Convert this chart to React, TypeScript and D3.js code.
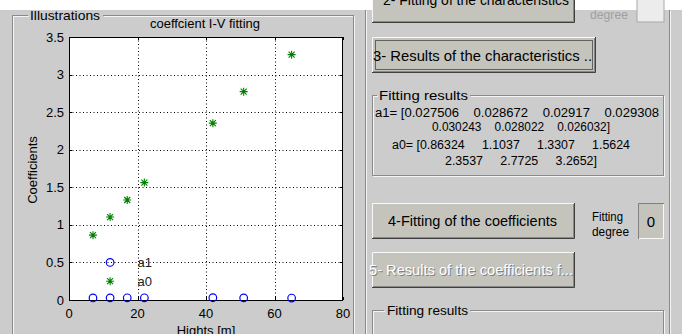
import React, { useEffect, useRef } from "react";
import * as d3 from "d3";

const heights = [7, 12, 17, 22, 42, 51, 65];
const a1Values = [0.027506, 0.028672, 0.02917, 0.029308, 0.030243, 0.028022, 0.026032];
const a0Values = [0.86324, 1.1037, 1.3307, 1.5624, 2.3537, 2.7725, 3.2652];
const xTicks = [0, 20, 40, 60, 80];
const yTicks = [0, 0.5, 1, 1.5, 2, 2.5, 3, 3.5];
const legendItems = [
  { name: "a1", y: 0.5, marker: "circle" },
  { name: "a0", y: 0.25, marker: "star" },
];
const legendMarkerX = 12;
const legendTextX = 20;
const title = "coeffcient I-V fitting";
const xLabel = "Hights [m]";
const yLabel = "Coefficients";

const FONT = "'Liberation Sans', Arial, sans-serif";
const BG = "#cccccc";
const BTN = "#c4c4bc";

function App() {
  const ref = useRef<SVGSVGElement>(null);

  useEffect(() => {
    const svg = d3.select(ref.current);
    svg.selectAll("*").remove();
    const W = 682, H = 334;

    svg.append("rect").attr("width", W).attr("height", H).attr("fill", BG);
    svg.append("rect").attr("width", W).attr("height", 10).attr("fill", "#ffffff");

    // etched line helper
    const etchH = (x1: number, x2: number, y: number) => {
      svg.append("line").attr("x1", x1).attr("x2", x2).attr("y1", y + 0.5).attr("y2", y + 0.5).attr("stroke", "#8a8a8a");
      svg.append("line").attr("x1", x1 + 1).attr("x2", x2 + 1).attr("y1", y + 1.5).attr("y2", y + 1.5).attr("stroke", "#f4f4f4");
    };
    const etchV = (x: number, y1: number, y2: number) => {
      svg.append("line").attr("x1", x + 0.5).attr("x2", x + 0.5).attr("y1", y1).attr("y2", y2).attr("stroke", "#8a8a8a");
      svg.append("line").attr("x1", x + 1.5).attr("x2", x + 1.5).attr("y1", y1 + 1).attr("y2", y2 + 1).attr("stroke", "#f4f4f4");
    };
    const txt = (s: string, x: number, y: number, size: number, opts: any = {}) => {
      const t = svg.append("text").attr("x", x).attr("y", y).attr("font-family", FONT)
        .attr("font-size", size).attr("fill", opts.fill || "#000").text(s);
      if (opts.anchor) t.attr("text-anchor", opts.anchor);
      if (opts.len) t.attr("textLength", opts.len).attr("lengthAdjust", "spacingAndGlyphs");
      return t;
    };
    const button = (x: number, y: number, w: number, h: number) => {
      svg.append("rect").attr("x", x).attr("y", y).attr("width", w).attr("height", h).attr("fill", BTN);
      svg.append("path").attr("d", `M${x + 0.5},${y + h} V${y + 0.5} H${x + w}`).attr("stroke", "#f8f8f8").attr("fill", "none");
      svg.append("path").attr("d", `M${x + 1},${y + h - 1.5} H${x + w - 1.5} V${y + 1}`).attr("stroke", "#888888").attr("fill", "none");
      svg.append("path").attr("d", `M${x},${y + h - 0.5} H${x + w - 0.5} V${y}`).attr("stroke", "#404040").attr("fill", "none");
    };

    // Left panel "Illustrations"
    etchH(12, 28, 15);
    etchH(103, 353, 15);
    etchV(12, 15, H);
    etchV(353, 15, H);
    txt("Illustrations", 30, 20, 13, { len: 70 });

    // Right panel
    etchV(365, 10, H);
    etchV(669, 10, H);

    // Button 2 (cut at top)
    button(372, -14, 203, 37);
    txt("2- Fitting of the characteristics", 383, 5, 15, { len: 186 });
    txt("degree", 590, 19, 12, { fill: "#a0a0a0", len: 38 });
    svg.append("rect").attr("x", 637).attr("y", -5).attr("width", 27).attr("height", 27).attr("fill", "#ececec")
      .attr("stroke", "#a8a8a8");

    // Button 3 with focus rect
    button(372, 37, 224, 36);
    svg.append("rect").attr("x", 375.5).attr("y", 40.5).attr("width", 217).attr("height", 29)
      .attr("fill", "none").attr("stroke", "#000").attr("stroke-dasharray", "1,1");
    txt("3- Results of the characteristics ..", 373, 61, 15, { len: 219 });

    // Fitting results panel 1
    etchH(372, 377, 95);
    etchH(470, 664, 95);
    etchV(372, 95, 175);
    etchV(663, 95, 175);
    etchH(372, 664, 175);
    txt("Fitting results", 379, 100, 13, { len: 89 });
    txt("a1= [0.027506    0.028672    0.02917    0.029308", 375, 117, 12, { len: 284 }).attr("xml:space", "preserve");
    txt("0.030243    0.028022    0.026032]", 432, 131, 12, { len: 178 }).attr("xml:space", "preserve");
    txt("a0= [0.86324     1.1037     1.3307     1.5624", 392, 149, 12, { len: 238 }).attr("xml:space", "preserve");
    txt("2.3537     2.7725     3.2652]", 445, 165, 12, { len: 152 }).attr("xml:space", "preserve");

    // Button 4
    button(372, 203, 203, 36);
    txt("4-Fitting of the coefficients", 388, 226, 15, { len: 169 });
    txt("Fitting", 592, 221, 12, { len: 31 });
    txt("degree", 592, 236, 12, { len: 37 });
    svg.append("rect").attr("x", 638).attr("y", 203).attr("width", 26).attr("height", 36).attr("fill", BTN);
    svg.append("path").attr("d", "M638.5,239 V203.5 H664").attr("stroke", "#808080").attr("fill", "none");
    svg.append("path").attr("d", "M639,238.5 H663.5 V204").attr("stroke", "#f8f8f8").attr("fill", "none");
    txt("0", 651, 227, 15, { anchor: "middle" });

    // Button 5 (disabled)
    button(372, 252, 203, 36);
    txt("5- Results of the coefficients f...", 370, 276, 15, { fill: "#808080", len: 204 });
    txt("5- Results of the coefficients f...", 369, 275, 15, { fill: "#ffffff", len: 204 });

    // Fitting results panel 2
    etchH(372, 384, 310);
    etchH(470, 664, 310);
    etchV(372, 310, H);
    etchV(663, 310, H);
    txt("Fitting results", 387, 315, 13, { len: 81 });

    // ---------- Axes ----------
    const x = d3.scaleLinear().domain([0, 80]).range([69, 343]);
    const y = d3.scaleLinear().domain([0, 3.5]).range([300, 37]);
    const g = svg.append("g");
    g.append("rect").attr("x", x(0)).attr("y", y(3.5)).attr("width", x(80) - x(0)).attr("height", y(0) - y(3.5)).attr("fill", "#fff");

    // grid
    xTicks.slice(1, -1).forEach((t) => {
      g.append("line").attr("x1", Math.round(x(t)) + 0.5).attr("x2", Math.round(x(t)) + 0.5)
        .attr("y1", y(3.5)).attr("y2", y(0)).attr("stroke", "#000").attr("stroke-dasharray", "1,2.5");
    });
    yTicks.slice(1, -1).forEach((t) => {
      g.append("line").attr("y1", Math.round(y(t)) + 0.5).attr("y2", Math.round(y(t)) + 0.5)
        .attr("x1", x(0)).attr("x2", x(80)).attr("stroke", "#000").attr("stroke-dasharray", "1,2.5");
    });
    // ticks inward
    xTicks.forEach((t) => {
      const xx = Math.round(x(t)) + 0.5;
      g.append("line").attr("x1", xx).attr("x2", xx).attr("y1", y(0)).attr("y2", y(0) - 3).attr("stroke", "#000");
      g.append("line").attr("x1", xx).attr("x2", xx).attr("y1", y(3.5)).attr("y2", y(3.5) + 3).attr("stroke", "#000");
      txt(String(t), x(t), 318, 13, { anchor: "middle" });
    });
    yTicks.forEach((t) => {
      const yy = Math.round(y(t)) + 0.5;
      g.append("line").attr("y1", yy).attr("y2", yy).attr("x1", x(0)).attr("x2", x(0) + 3).attr("stroke", "#000");
      g.append("line").attr("y1", yy).attr("y2", yy).attr("x1", x(80)).attr("x2", x(80) - 3).attr("stroke", "#000");
      txt(String(t), 64, y(t) + 4.5, 13, { anchor: "end" });
    });
    g.append("rect").attr("x", x(0) + 0.5).attr("y", y(3.5) + 0.5).attr("width", x(80) - x(0) - 1).attr("height", y(0) - y(3.5))
      .attr("fill", "none").attr("stroke", "#000");

    txt(title, (x(0) + x(80)) / 2, 28, 13, { anchor: "middle", len: 110 }).attr("x", 150).attr("text-anchor", "start");
    txt(xLabel, 206, 335, 13, { anchor: "middle" });
    svg.append("text").attr("transform", `translate(37,170) rotate(-90)`).attr("text-anchor", "middle")
      .attr("font-family", FONT).attr("font-size", 13).text(yLabel);

    const star = (cx: number, cy: number) => {
      const s = 4, d = 3;
      g.append("path").attr("d",
        `M${cx - s},${cy} H${cx + s} M${cx},${cy - s} V${cy + s} M${cx - d},${cy - d} L${cx + d},${cy + d} M${cx - d},${cy + d} L${cx + d},${cy - d}`)
        .attr("stroke", "#008000").attr("stroke-width", 1.1).attr("fill", "none");
    };
    const circ = (cx: number, cy: number) => {
      g.append("circle").attr("cx", cx).attr("cy", cy).attr("r", 3.8).attr("fill", "none")
        .attr("stroke", "#0000ff").attr("stroke-width", 1.2);
    };

    heights.forEach((h, i) => star(x(h), y(a0Values[i])));
    heights.forEach((h, i) => circ(x(h), y(a1Values[i])));
    legendItems.forEach((it) => {
      if (it.marker === "circle") circ(x(legendMarkerX), y(it.y));
      else star(x(legendMarkerX), y(it.y));
      txt(it.name, x(legendTextX), y(it.y) + 5, 13, { fill: "#222" });
    });
  }, []);

  return (
    <svg ref={ref} width={682} height={334}
      style={{ position: "absolute", left: 0, top: 0, display: "block" }} />
  );
}

export default App;
